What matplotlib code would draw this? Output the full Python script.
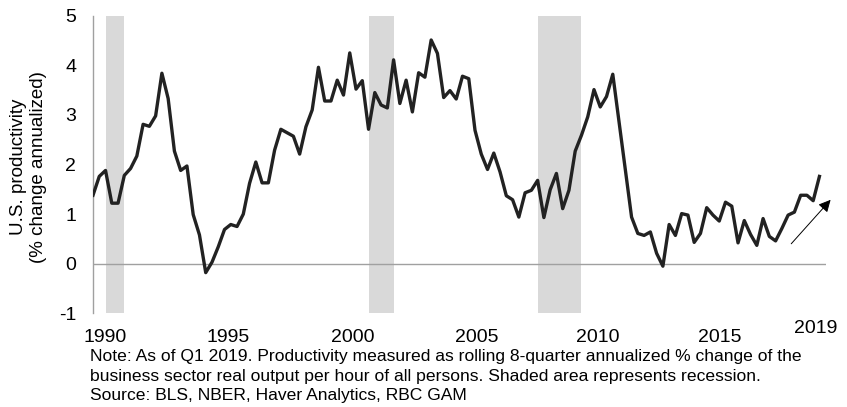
import numpy as np
import matplotlib.pyplot as plt

plt.rcParams['font.family'] = ['Liberation Sans', 'DejaVu Sans']

# quarterly productivity, 1990 Q1 .. 2019 Q1 (% change annualized, rolling 8 quarters)
start_year = 1990
productivity = [
    1.38, 1.76, 1.88, 1.22, 1.22, 1.78, 1.92, 2.17, 2.81, 2.77,
    2.98, 3.84, 3.33, 2.27, 1.88, 1.97, 0.99, 0.58, -0.18, 0.03,
    0.34, 0.69, 0.79, 0.75, 1.00, 1.62, 2.05, 1.63, 1.63, 2.29,
    2.71, 2.64, 2.57, 2.21, 2.76, 3.10, 3.96, 3.28, 3.28, 3.70,
    3.40, 4.25, 3.52, 3.69, 2.71, 3.45, 3.20, 3.14, 4.11, 3.23,
    3.70, 3.06, 3.85, 3.76, 4.51, 4.24, 3.35, 3.49, 3.32, 3.78,
    3.73, 2.69, 2.21, 1.90, 2.23, 1.85, 1.37, 1.29, 0.94, 1.43,
    1.48, 1.68, 0.93, 1.49, 1.82, 1.11, 1.48, 2.27, 2.59, 2.96,
    3.51, 3.16, 3.37, 3.82, 2.86, 1.90, 0.94, 0.61, 0.57, 0.64,
    0.21, -0.05, 0.79, 0.57, 1.01, 0.98, 0.43, 0.61, 1.13, 0.98,
    0.86, 1.24, 1.16, 0.42, 0.87, 0.59, 0.37, 0.91, 0.55, 0.46,
    0.71, 0.98, 1.04, 1.38, 1.38, 1.27, 1.76,
]
recessions = [(1990.5, 1991.25), (2001.0, 2002.0), (2007.75, 2009.5)]
year_labels = ['1990', '1995', '2000', '2005', '2010', '2015']
label_pos = [1990.47, 1995.41, 2000.36, 2005.3, 2010.17, 2015.04]
y_ticks = [-1, 0, 1, 2, 3, 4, 5]

x = start_year + np.arange(len(productivity)) * 0.25

fig = plt.figure(figsize=(8.47, 4.07), dpi=100)
ax = fig.add_axes([93 / 847, 1 - 313.3 / 407, 732.7 / 847, 297.6 / 407])

for a, b in recessions:
    ax.axvspan(a, b, color='#d9d9d9', lw=0, zorder=0)

ax.axhline(0, color='#a0a0a0', lw=1.0, zorder=1)
ax.plot(x, productivity, color='#222222', lw=2.4, zorder=3)

ax.set_xlim(1990, 2019.25)
ax.set_ylim(-1, 5)
ax.set_yticks(y_ticks)
ax.set_yticklabels([str(t) for t in y_ticks])
ax.set_xticks(label_pos)
ax.set_xticklabels(year_labels)
ax.tick_params(axis='both', length=0, labelsize=14, colors='black')
ax.tick_params(axis='y', pad=12)
ax.tick_params(axis='x', pad=11)
for s in ['top', 'right', 'bottom']:
    ax.spines[s].set_visible(False)
ax.spines['left'].set_color('#a0a0a0')
ax.spines['left'].set_linewidth(1.0)

ax.text(2018.87, -1.3, '2019', ha='center', va='center', fontsize=14)

# trend arrow
ax.annotate('', xy=(2019.52, 1.33), xytext=(2017.8, 0.36),
            arrowprops=dict(arrowstyle='-|>', color='#555555', lw=0.7,
                            mutation_scale=18, fc='black', ec='black'),
            annotation_clip=False)

fig.text(28.5 / 847, 1 - 167 / 407, 'U.S. productivity\n(% change annualized)',
         rotation=90, ha='center', va='center', fontsize=13.5, linespacing=1.3)

note = ('Note: As of Q1 2019. Productivity measured as rolling 8-quarter annualized % change of the\n'
        'business sector real output per hour of all persons. Shaded area represents recession.\n'
        'Source: BLS, NBER, Haver Analytics, RBC GAM')
fig.text(90 / 847, 1 - 349 / 407, note, ha='left', va='top', fontsize=12.6, linespacing=1.38)

fig.savefig('out.png', dpi=100)
